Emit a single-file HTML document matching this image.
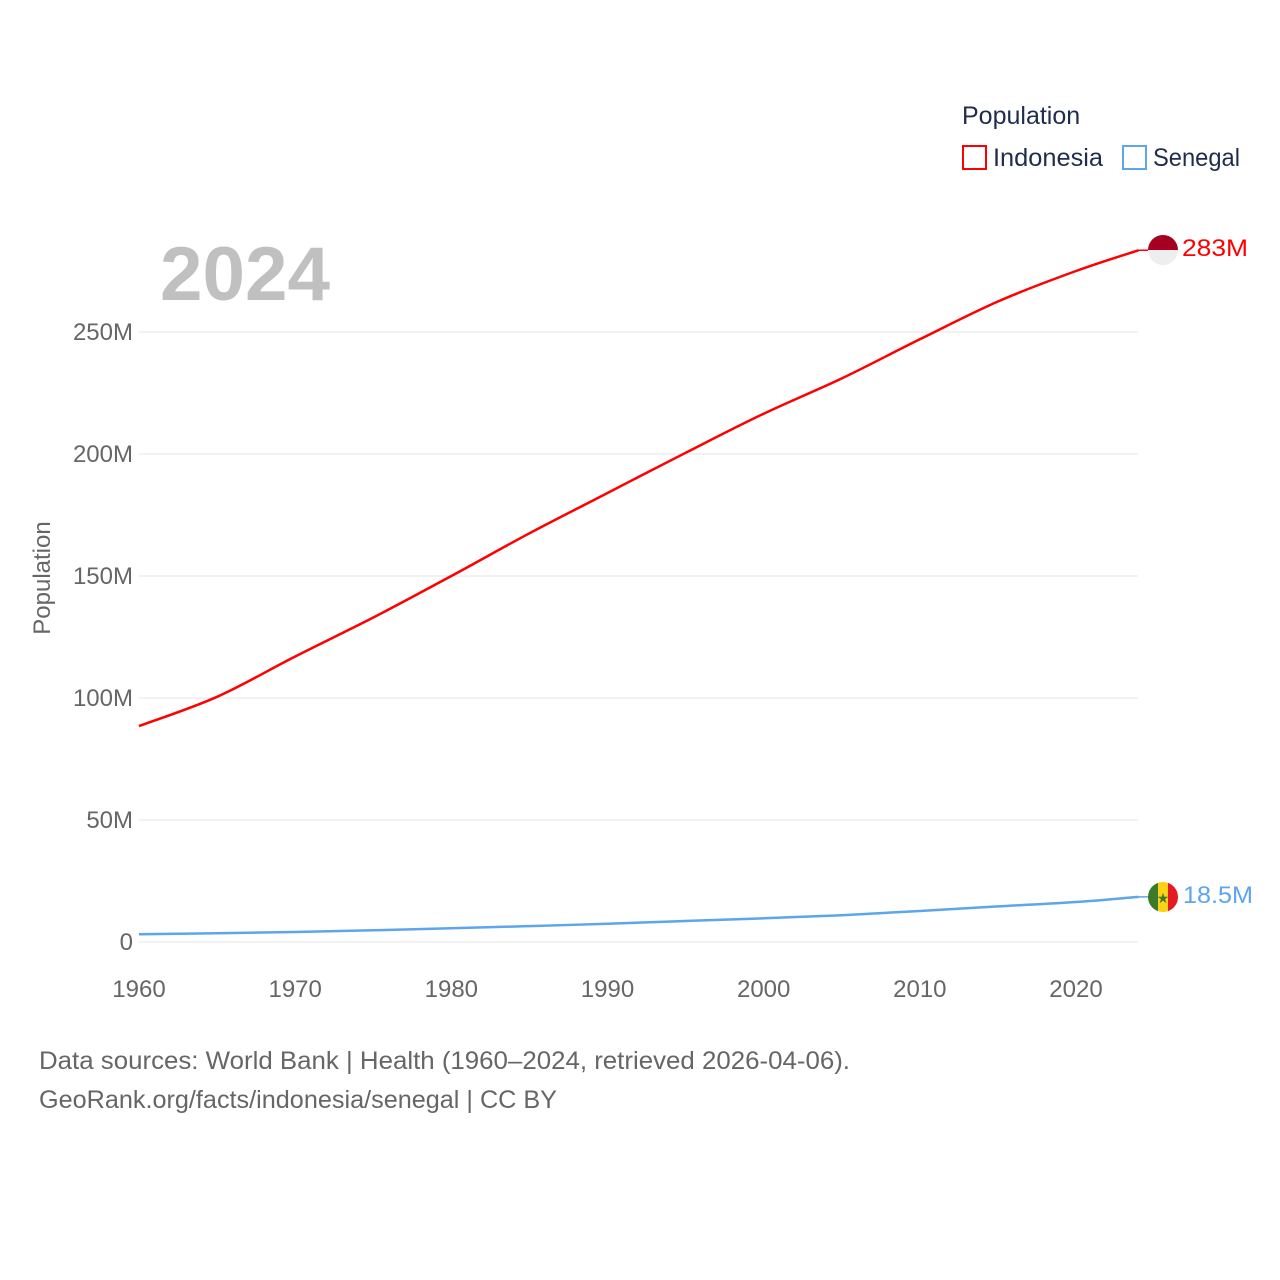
<!DOCTYPE html>
<html><head><meta charset="utf-8"><style>
body{margin:0;background:#fff;}
svg{display:block;font-family:"Liberation Sans",sans-serif;}
</style></head><body>
<svg id="chart" width="1280" height="1280">
<defs>
<clipPath id="c1"><circle cx="1163" cy="250" r="15"/></clipPath>
<clipPath id="c2"><circle cx="1163" cy="897" r="15"/></clipPath>
</defs>
<g id="grid"></g>
<g id="yt"></g>
<g id="xt"></g>
<text x="160" y="300" font-size="76" font-weight="bold" fill="#c0c0c0" textLength="170" lengthAdjust="spacingAndGlyphs">2024</text>
<text transform="translate(50,578) rotate(-90)" text-anchor="middle" font-size="24" fill="#666">Population</text>
<text x="962" y="124" font-size="25" fill="#1f2d4d">Population</text>
<g><rect x="963" y="146" width="23" height="23" fill="none" stroke="#f00" stroke-width="2"/><text x="993" y="166" font-size="25" fill="#1f2d4d" textLength="110" lengthAdjust="spacingAndGlyphs">Indonesia</text></g>
<g><rect x="1123" y="146" width="23" height="23" fill="none" stroke="#5da5ec" stroke-width="2"/><text x="1153" y="166" font-size="25" fill="#1f2d4d" textLength="87" lengthAdjust="spacingAndGlyphs">Senegal</text></g>
<g id="lines"></g>
<g clip-path="url(#c1)"><rect x="1148" y="235" width="30" height="15" fill="#a50021"/><rect x="1148" y="250" width="30" height="15" fill="#eee"/></g>
<text x="1182" y="256" font-size="24" fill="#f00" textLength="66" lengthAdjust="spacingAndGlyphs">283M</text>
<g clip-path="url(#c2)"><rect x="1148" y="882" width="10" height="30" fill="#3a7a2a"/><rect x="1158" y="882" width="10" height="30" fill="#fcd116"/><rect x="1168" y="882" width="10" height="30" fill="#e31b23"/><text x="1163" y="903" font-size="14" text-anchor="middle" fill="#3a7a2a">★</text></g>
<text x="1183" y="903" font-size="24" fill="#5da5ec" textLength="70" lengthAdjust="spacingAndGlyphs">18.5M</text>
<text x="39" y="1069" font-size="25" fill="#666" textLength="811" lengthAdjust="spacingAndGlyphs">Data sources: World Bank | Health (1960–2024, retrieved 2026-04-06).</text>
<text x="39" y="1108" font-size="25" fill="#666" textLength="518" lengthAdjust="spacingAndGlyphs">GeoRank.org/facts/indonesia/senegal | CC BY</text>
</svg>
<script>
const years=[1960,1965,1970,1975,1980,1985,1990,1995,2000,2005,2010,2015,2020,2024];
const indonesia=[88.5,100.5,117,133,150,167.5,184,200.5,216.5,231,247,262.5,275,283.5];
const senegal=[3.2,3.6,4.1,4.8,5.6,6.5,7.5,8.6,9.7,11.0,12.7,14.6,16.4,18.5];
const yTicks=[0,50,100,150,200,250];
const yTickLabels=["0","50M","100M","150M","200M","250M"];
const xTicks=[1960,1970,1980,1990,2000,2010,2020];
const NS="http://www.w3.org/2000/svg";
const X=y=>139+(y-1960)*(1076-139)/60;
const Y=v=>942-v*(942-332)/250;
function mk(t,a,p){const e=document.createElementNS(NS,t);for(const k in a)e.setAttribute(k,a[k]);p.appendChild(e);return e;}
const grid=document.getElementById('grid'),yt=document.getElementById('yt'),xt=document.getElementById('xt'),lines=document.getElementById('lines');
yTicks.forEach((v,i)=>{
 const l=mk('line',{x1:139,x2:1138,y1:Y(v),y2:Y(v),stroke:'#e6e6e6','stroke-width':1},grid);
 
 
 const t=mk('text',{x:133,y:Y(v)+8,'text-anchor':'end','font-size':24,fill:'#666'},yt);
 t.textContent=yTickLabels[i];
 
 
});
xTicks.forEach(v=>{
 const t=mk('text',{x:X(v),y:997,'text-anchor':'middle','font-size':24,fill:'#666'},xt);
 t.textContent=v;
 
 
});
function series(vals,col,name){
 const pts=years.map((y,i)=>[X(y),Y(vals[i])]);
 let d='M'+pts[0][0].toFixed(1)+','+pts[0][1].toFixed(1);
 for(let i=0;i<pts.length-1;i++){
  const p0=pts[i-1]||pts[i],p1=pts[i],p2=pts[i+1],p3=pts[i+2]||p2;
  const c1=[p1[0]+(p2[0]-p0[0])/6,p1[1]+(p2[1]-p0[1])/6];
  const c2=[p2[0]-(p3[0]-p1[0])/6,p2[1]-(p3[1]-p1[1])/6];
  d+=' C'+c1.map(n=>n.toFixed(1)).join(',')+' '+c2.map(n=>n.toFixed(1)).join(',')+' '+p2.map(n=>n.toFixed(1)).join(',');
 }
 const p=mk('path',{d:d,fill:'none',stroke:col,'stroke-width':2.5,'stroke-linejoin':'round'},lines);
 
 
 const last=vals[vals.length-1];
 mk('line',{x1:X(2024),x2:1150,y1:Y(last),y2:Y(last),stroke:col,'stroke-width':1.5},lines);
}
series(indonesia,'#ff0000','indonesia-line');
series(senegal,'#5da5ec','senegal-line');
</script>
</body></html>
